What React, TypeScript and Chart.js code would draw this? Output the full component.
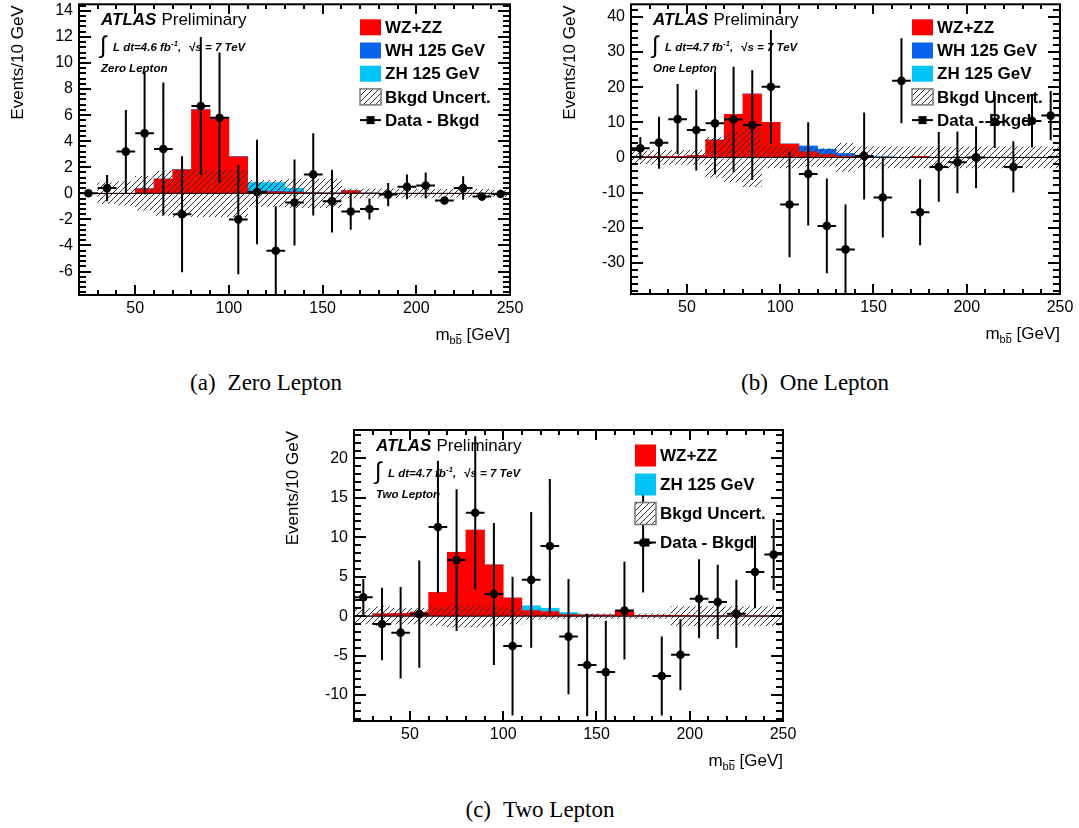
import React, { useEffect, useRef } from "react";
import { Chart, registerables } from "chart.js";

Chart.register(...registerables);

const FONT = '"Liberation Sans", Arial, Helvetica, sans-serif';

// ---------- shared binning ----------
const binCenters = [25, 35, 45, 55, 65, 75, 85, 95, 105, 115, 125, 135, 145, 155, 165, 175, 185, 195, 205, 215, 225, 235, 245];
const binHalfWidth = 5;
const xMin = 20;
const xMax = 250;
const xTickValues = [50, 100, 150, 200, 250];
const xMinorStep = 10;

// ---------- (a) Zero Lepton ----------
const zeroWZZZ = [0, 0, 0, 0.35, 1.1, 1.8, 6.4, 5.8, 2.8, 0.15, 0.12, 0.1, 0.03, 0.02, 0.2, 0.02, 0, 0, 0, 0, 0, 0, 0];
const zeroWH = [0, 0, 0, 0, 0, 0, 0, 0, 0, 0.04, 0.04, 0.02, 0, 0, 0, 0, 0, 0, 0, 0, 0, 0, 0];
const zeroZH = [0, 0, 0, 0, 0, 0, 0, 0, 0.02, 0.63, 0.66, 0.26, 0.05, 0, 0, 0, 0, 0, 0, 0, 0, 0, 0];
const zeroUnc = [0, 0.8, 0.9, 1.3, 1.7, 1.8, 1.8, 1.8, 1.8, 1.0, 1.0, 1.1, 1.1, 1.1, 0.35, 0.35, 0.35, 0.3, 0.3, 0.3, 0.3, 0.3, 0.25];
const zeroData = [0, 0.4, 3.2, 4.6, 3.4, -1.6, 6.7, 5.8, -2.0, 0.1, -4.4, -0.7, 1.45, -0.6, -1.4, -1.2, -0.1, 0.5, 0.6, -0.55, 0.4, -0.25, -0.05];
const zeroErr = [0, 1.0, 3.2, 4.7, 5.1, 4.45, 5.3, 5.0, 4.2, 4.0, 3.4, 3.3, 3.15, 2.4, 1.4, 0.8, 0.9, 0.95, 1.0, 0, 0.9, 0, 0];
const zeroYTicks = [-6, -4, -2, 0, 2, 4, 6, 8, 10, 12, 14];

// ---------- (b) One Lepton ----------
const oneWZZZ = [0.2, 0.2, 0.3, 0.5, 4.9, 12.3, 18.0, 10.0, 3.8, 1.6, 0.8, 0.3, 0.1, 0.05, 0.05, 0.3, 0.05, 0, 0, 0, 0, 0, 0];
const oneWH = [0, 0, 0, 0, 0, 0, 0, 0, 0, 1.6, 1.5, 0.8, 0.25, 0.1, 0, 0, 0, 0, 0, 0, 0, 0, 0];
const oneZH = [0, 0, 0, 0, 0, 0, 0, 0, 0, 0.05, 0.05, 0.03, 0, 0, 0, 0, 0, 0, 0, 0, 0, 0, 0];
const oneUnc = [1.8, 2.0, 2.0, 2.0, 5.7, 7.0, 8.3, 3.0, 3.0, 2.5, 2.5, 4.0, 3.0, 3.0, 3.0, 3.0, 3.0, 3.0, 3.0, 3.0, 3.0, 3.0, 3.0];
const oneData = [2.6, 4.2, 10.9, 7.8, 9.7, 10.8, 9.2, 20.1, -13.4, -4.7, -19.5, -26.2, 0.4, -11.4, 21.8, -15.6, -2.7, -1.4, 0, 10.1, -2.7, 10.4, 11.9];
const oneErr = [3.2, 7.4, 10, 11.5, 14.6, 15, 15.6, 16.2, 15, 14.7, 13.5, 12.8, 12.4, 11.4, 12.1, 9.4, 9.9, 8.8, 8.8, 7.4, 7.3, 7.6, 7];
const oneYTicks = [-30, -20, -10, 0, 10, 20, 30, 40];

// ---------- (c) Two Lepton ----------
const twoWZZZ = [0, 0.3, 0.35, 0.5, 3.0, 8.1, 10.9, 6.5, 2.3, 0.7, 0.55, 0.2, 0.15, 0.15, 0.6, 0.1, 0.1, 0.1, 0.05, 0.05, 0.05, 0.05, 0.05];
const twoZH = [0, 0, 0, 0, 0, 0, 0, 0, 0, 0.6, 0.45, 0.25, 0.05, 0, 0, 0, 0, 0, 0, 0, 0, 0, 0];
const twoUnc = [1.0, 1.2, 1.0, 1.0, 1.2, 1.4, 1.4, 1.2, 1.0, 0.4, 0.35, 0.3, 0.3, 0.3, 0.3, 0.3, 0.3, 1.2, 1.2, 1.2, 1.2, 1.2, 1.2];
const twoData = [2.4, -1.0, -2.1, 0.25, 11.3, 7.1, 13.1, 2.8, -3.8, 4.6, 8.9, -2.6, -6.2, -7.1, 0.7, 9.3, -7.6, -4.9, 2.2, 1.8, 0.3, 5.6, 7.8];
const twoErr = [2.3, 4.6, 5.8, 6.8, 8.4, 9.0, 9.7, 9.0, 8.8, 8.6, 8.5, 7.3, 6.5, 6.5, 6.2, 6.3, 5.0, 4.5, 5.0, 4.7, 4.3, 4.6, 4.5];
const twoYTicks = [-10, -5, 0, 5, 10, 15, 20];

// ---------- labels / colours ----------
const colorWZZZ = "#ff0000";
const colorWH = "#0a64f0";
const colorZH = "#00c4f5";
const legendFull = ["WZ+ZZ", "WH 125 GeV", "ZH 125 GeV", "Bkgd Uncert.", "Data - Bkgd"];
const legendTwo = ["WZ+ZZ", "ZH 125 GeV", "Bkgd Uncert.", "Data - Bkgd"];
const yTitle = "Events/10 GeV";

interface Comp { label: string; color: string; values: number[] }
interface LegendItem { label: string; kind: "box" | "hatch" | "marker"; color?: string }
interface PanelCfg {
  comps: Comp[];
  unc: number[];
  data: number[];
  err: number[];
  yMin: number;
  yMax: number;
  yTicks: number[];
  yMinor: number;
  lumi: string;
  channel: string;
  legend: LegendItem[];
  legendY0: number;
  legendDy: number;
  legendBoxH: number;
  box: { left: number; top: number; width: number; height: number };
  pad: { left: number; top: number; right: number; bottom: number };
  caption: [string, string];
  captionX: number;
  captionY: number;
}

const Y_AXIS_W = 50;
const X_AXIS_H = 30;

const panels: PanelCfg[] = [
  {
    comps: [
      { label: legendFull[0], color: colorWZZZ, values: zeroWZZZ },
      { label: legendFull[1], color: colorWH, values: zeroWH },
      { label: legendFull[2], color: colorZH, values: zeroZH },
    ],
    unc: zeroUnc, data: zeroData, err: zeroErr,
    yMin: -7.8, yMax: 14.5, yTicks: zeroYTicks, yMinor: 0.4,
    lumi: "4.6", channel: "Zero Lepton",
    legend: [
      { label: legendFull[0], kind: "box", color: colorWZZZ },
      { label: legendFull[1], kind: "box", color: colorWH },
      { label: legendFull[2], kind: "box", color: colorZH },
      { label: legendFull[3], kind: "hatch" },
      { label: legendFull[4], kind: "marker" },
    ],
    legendY0: 23, legendDy: 23.2, legendBoxH: 16,
    box: { left: 0, top: 0, width: 540, height: 360 },
    pad: { left: 79 - Y_AXIS_W, top: 4, right: 30, bottom: 360 - 295 - X_AXIS_H },
    caption: ["(a)", "Zero Lepton"], captionX: 266, captionY: 371,
  },
  {
    comps: [
      { label: legendFull[0], color: colorWZZZ, values: oneWZZZ },
      { label: legendFull[1], color: colorWH, values: oneWH },
      { label: legendFull[2], color: colorZH, values: oneZH },
    ],
    unc: oneUnc, data: oneData, err: oneErr,
    yMin: -38.9, yMax: 43.6, yTicks: oneYTicks, yMinor: 2,
    lumi: "4.7", channel: "One Lepton",
    legend: [
      { label: legendFull[0], kind: "box", color: colorWZZZ },
      { label: legendFull[1], kind: "box", color: colorWH },
      { label: legendFull[2], kind: "box", color: colorZH },
      { label: legendFull[3], kind: "hatch" },
      { label: legendFull[4], kind: "marker" },
    ],
    legendY0: 23, legendDy: 23.2, legendBoxH: 16,
    box: { left: 540, top: 0, width: 539, height: 360 },
    pad: { left: 91 - Y_AXIS_W, top: 4, right: 19, bottom: 360 - 294 - X_AXIS_H },
    caption: ["(b)", "One Lepton"], captionX: 815, captionY: 371,
  },
  {
    comps: [
      { label: legendTwo[0], color: colorWZZZ, values: twoWZZZ },
      { label: legendTwo[1], color: colorZH, values: twoZH },
    ],
    unc: twoUnc, data: twoData, err: twoErr,
    yMin: -13.3, yMax: 23.6, yTicks: twoYTicks, yMinor: 1,
    lumi: "4.7", channel: "Two Lepton",
    legend: [
      { label: legendTwo[0], kind: "box", color: colorWZZZ },
      { label: legendTwo[1], kind: "box", color: colorZH },
      { label: legendTwo[2], kind: "hatch" },
      { label: legendTwo[3], kind: "marker" },
    ],
    legendY0: 25.5, legendDy: 29, legendBoxH: 22,
    box: { left: 270, top: 420, width: 540, height: 360 },
    pad: { left: 84 - Y_AXIS_W, top: 10, right: 27, bottom: 360 - 301 - X_AXIS_H },
    caption: ["(c)", "Two Lepton"], captionX: 540, captionY: 798,
  },
];

function makeHatch(): CanvasPattern | string {
  const c = document.createElement("canvas");
  c.width = 6;
  c.height = 6;
  const g = c.getContext("2d");
  if (!g) return "rgba(0,0,0,0.3)";
  g.strokeStyle = "#333";
  g.lineWidth = 1;
  g.beginPath();
  g.moveTo(0, 6);
  g.lineTo(6, 0);
  g.moveTo(-1, 1);
  g.lineTo(1, -1);
  g.moveTo(5, 7);
  g.lineTo(7, 5);
  g.stroke();
  return g.createPattern(c, "repeat") || "rgba(0,0,0,0.3)";
}

function drawTicks(ctx: CanvasRenderingContext2D, a: any, xs: any, ys: any, cfg: PanelCfg) {
  ctx.fillStyle = "#000";
  const L = Math.round(a.left);
  const R = Math.round(a.right);
  const T = Math.round(a.top);
  const B = Math.round(a.bottom);
  const xVals: number[] = [];
  for (let k = 1; xMin + k * xMinorStep < xMax; k++) xVals.push(xMin + k * xMinorStep);
  xVals.forEach((v) => {
    const px = Math.round(xs.getPixelForValue(v));
    const major = xTickValues.indexOf(v) >= 0;
    const len = major ? 10 : 5;
    ctx.fillRect(px - 1, B - len, 2, len);
    ctx.fillRect(px - 1, T, 2, len);
  });
  const start = Math.ceil(cfg.yMin / cfg.yMinor - 1e-9);
  const end = Math.floor(cfg.yMax / cfg.yMinor + 1e-9);
  for (let k = start; k <= end; k++) {
    const v = Math.round(k * cfg.yMinor * 1000) / 1000;
    const py = Math.round(ys.getPixelForValue(v));
    let major = false;
    cfg.yTicks.forEach((t) => {
      if (Math.abs(t - v) < 1e-6) major = true;
    });
    const len = major ? 12 : 7;
    ctx.fillRect(L, py - 1, len, 2);
    ctx.fillRect(R - len, py - 1, len, 2);
  }
}

function drawDecorations(chart: any, cfg: PanelCfg, hatch: CanvasPattern | string) {
  const ctx: CanvasRenderingContext2D = chart.ctx;
  const a = chart.chartArea;
  const xs = chart.scales.x;
  const ys = chart.scales.y;
  ctx.save();

  // frame
  ctx.strokeStyle = "#000";
  ctx.lineWidth = 2;
  ctx.strokeRect(a.left, a.top, a.right - a.left, a.bottom - a.top);

  // tick marks on all four sides (inside the frame)
  drawTicks(ctx, a, xs, ys, cfg);

  // ATLAS label
  ctx.fillStyle = "#000";
  ctx.textBaseline = "alphabetic";
  ctx.textAlign = "left";
  const ax = a.left + 22;
  ctx.font = `italic bold 17px ${FONT}`;
  ctx.fillText("ATLAS", ax, a.top + 21);
  const wA = ctx.measureText("ATLAS").width;
  ctx.font = `17px ${FONT}`;
  ctx.fillText("Preliminary", ax + wA + 5, a.top + 21);

  // luminosity line
  ctx.font = `24px ${FONT}`;
  ctx.fillText("\u222B", ax - 1, a.top + 49);
  let tx = ax + 12;
  const base = a.top + 47;
  ctx.font = `italic bold 11.5px ${FONT}`;
  const s1 = `L dt=${cfg.lumi} fb`;
  ctx.fillText(s1, tx, base);
  tx += ctx.measureText(s1).width + 0.5;
  ctx.font = `italic bold 7.5px ${FONT}`;
  ctx.fillText("-1", tx, base - 5);
  tx += ctx.measureText("-1").width;
  ctx.font = `italic bold 11.5px ${FONT}`;
  ctx.fillText(",", tx, base);
  tx += ctx.measureText(",").width + 8;
  ctx.font = `bold 11.5px ${FONT}`;
  ctx.fillText("\u221A", tx, base);
  tx += ctx.measureText("\u221A").width;
  ctx.font = `italic bold 11.5px ${FONT}`;
  ctx.fillText("s = 7 TeV", tx, base);

  // channel
  ctx.font = `italic bold 11.5px ${FONT}`;
  ctx.fillText(cfg.channel, ax, a.top + 68);

  // legend
  const lx = a.left + 281;
  cfg.legend.forEach((e, i) => {
    const cy = a.top + cfg.legendY0 + i * cfg.legendDy;
    const h = cfg.legendBoxH;
    if (e.kind === "box") {
      ctx.fillStyle = e.color || "#000";
      ctx.fillRect(lx, cy - h / 2, 21, h);
    } else if (e.kind === "hatch") {
      ctx.fillStyle = "#fff";
      ctx.fillRect(lx, cy - h / 2, 21, h);
      ctx.fillStyle = hatch as any;
      ctx.fillRect(lx, cy - h / 2, 21, h);
      ctx.strokeStyle = "#777";
      ctx.lineWidth = 1.5;
      ctx.strokeRect(lx, cy - h / 2, 21, h);
    } else {
      ctx.fillStyle = "#000";
      ctx.fillRect(lx, cy - 1, 21, 2);
      ctx.fillRect(lx + 10.5 - 4, cy - 4, 8, 8);
    }
    ctx.fillStyle = "#000";
    ctx.font = `bold 17px ${FONT}`;
    ctx.textBaseline = "middle";
    ctx.fillText(e.label, lx + 25, cy + 1);
    ctx.textBaseline = "alphabetic";
  });

  // y title
  ctx.save();
  ctx.translate(a.left - 61, a.top + 1);
  ctx.rotate(-Math.PI / 2);
  ctx.font = `17px ${FONT}`;
  ctx.textAlign = "right";
  ctx.textBaseline = "middle";
  ctx.fillStyle = "#000";
  ctx.fillText(yTitle, 0, 0);
  ctx.restore();

  // x title: m_{b b-bar} [GeV]
  const bl = a.bottom + 45;
  ctx.font = `17px ${FONT}`;
  const wm = ctx.measureText("m").width;
  const wRest = ctx.measureText(" [GeV]").width;
  ctx.font = `11px ${FONT}`;
  const wb = ctx.measureText("b").width;
  const total = wm + 2 * wb + wRest;
  let xx = a.right - total;
  ctx.textAlign = "left";
  ctx.textBaseline = "alphabetic";
  ctx.fillStyle = "#000";
  ctx.font = `17px ${FONT}`;
  ctx.fillText("m", xx, bl);
  xx += wm;
  ctx.font = `11px ${FONT}`;
  ctx.fillText("b", xx, bl + 4);
  ctx.fillText("b", xx + wb, bl + 4);
  ctx.fillRect(xx + wb + 0.5, bl - 6, wb - 1, 1);
  xx += 2 * wb;
  ctx.font = `17px ${FONT}`;
  ctx.fillText(" [GeV]", xx, bl);

  ctx.restore();
}

function Panel({ cfg }: { cfg: PanelCfg }) {
  const ref = useRef<HTMLCanvasElement>(null);
  useEffect(() => {
    const canvas = ref.current;
    if (!canvas) return;
    const hatch = makeHatch();

    const datasets: any[] = [];
    // stacked signal components as floating bars
    let cum = binCenters.map(() => 0);
    cfg.comps.forEach((comp, k) => {
      const data = binCenters.map((x, i) => ({ x, y: [cum[i], cum[i] + comp.values[i]] }));
      cum = cum.map((c, i) => c + comp.values[i]);
      datasets.push({
        type: "bar",
        label: comp.label,
        data,
        backgroundColor: comp.color,
        borderWidth: 0,
        grouped: false,
        barPercentage: 1,
        categoryPercentage: 1,
        order: 10 + k,
      });
    });
    // background uncertainty band
    datasets.push({
      type: "bar",
      label: "Bkgd Uncert.",
      data: binCenters.map((x, i) => ({ x, y: [-cfg.unc[i], cfg.unc[i]] })),
      backgroundColor: hatch,
      borderWidth: 0,
      grouped: false,
      barPercentage: 1,
      categoryPercentage: 1,
      order: 5,
    });
    // zero line
    datasets.push({
      type: "line",
      label: "zero",
      data: [{ x: xMin, y: 0 }, { x: xMax, y: 0 }],
      borderColor: "#000",
      borderWidth: 1,
      pointRadius: 0,
      order: 3,
    });
    // error bars
    const segs: any[] = [];
    binCenters.forEach((x, i) => {
      const v = cfg.data[i];
      const e = cfg.err[i];
      segs.push({ x: x - binHalfWidth, y: v }, { x: x + binHalfWidth, y: v }, { x: x + binHalfWidth, y: null });
      if (e > 0) segs.push({ x, y: v - e }, { x, y: v + e }, { x, y: null });
    });
    datasets.push({
      type: "line",
      label: "errors",
      data: segs,
      borderColor: "#000",
      borderWidth: 2,
      pointRadius: 0,
      spanGaps: false,
      order: 1,
    });
    // data markers
    datasets.push({
      type: "scatter",
      label: "Data - Bkgd",
      data: binCenters.map((x, i) => ({ x, y: cfg.data[i] })),
      backgroundColor: "#000",
      borderWidth: 0,
      pointRadius: 4.3,
      order: 0,
    });

    const tickFont = { family: FONT, size: 16 };
    const chart = new Chart(canvas, {
      type: "bar",
      data: { datasets },
      options: {
        responsive: false,
        animation: false,
        devicePixelRatio: 1,
        events: [],
        layout: { padding: cfg.pad },
        plugins: { legend: { display: false }, tooltip: { enabled: false }, title: { display: false } },
        scales: {
          x: {
            type: "linear",
            min: xMin,
            max: xMax,
            offset: false,
            grid: { display: false, drawTicks: false },
            border: { display: false },
            ticks: { font: tickFont, color: "#000", padding: 4, maxRotation: 0, autoSkip: false },
            afterBuildTicks: (s: any) => {
              s.ticks = xTickValues.map((v) => ({ value: v }));
            },
            afterFit: (s: any) => {
              s.height = X_AXIS_H;
              s.paddingLeft = 0;
              s.paddingRight = 0;
            },
          },
          y: {
            type: "linear",
            min: cfg.yMin,
            max: cfg.yMax,
            grid: { display: false, drawTicks: false },
            border: { display: false },
            ticks: { font: tickFont, color: "#000", padding: 6, autoSkip: false },
            afterBuildTicks: (s: any) => {
              s.ticks = cfg.yTicks.map((v) => ({ value: v }));
            },
            afterFit: (s: any) => {
              s.width = Y_AXIS_W;
              s.paddingTop = 0;
              s.paddingBottom = 0;
            },
          },
        },
      } as any,
      plugins: [
        {
          id: "atlasDecor",
          afterDraw: (c: any) => drawDecorations(c, cfg, hatch),
        },
      ],
    });
    return () => chart.destroy();
  }, [cfg]);

  return (
    <canvas
      ref={ref}
      width={cfg.box.width}
      height={cfg.box.height}
      style={{ position: "absolute", left: cfg.box.left, top: cfg.box.top, width: cfg.box.width, height: cfg.box.height }}
    />
  );
}

function Caption({ cfg }: { cfg: PanelCfg }) {
  return (
    <div
      style={{
        position: "absolute",
        left: cfg.captionX - 150,
        top: cfg.captionY,
        width: 300,
        textAlign: "center",
        fontFamily: '"Liberation Serif", "Times New Roman", serif',
        fontSize: 23,
        lineHeight: "23px",
        color: "#000",
        whiteSpace: "nowrap",
      }}
    >
      <span>{cfg.caption[0]}</span>
      <span style={{ display: "inline-block", width: 12 }} />
      <span>{cfg.caption[1]}</span>
    </div>
  );
}

export default function App() {
  return (
    <div style={{ position: "absolute", left: 0, top: 0, width: 1079, height: 828, background: "#fff", overflow: "hidden" }}>
      {panels.map((p, i) => (
        <Panel key={i} cfg={p} />
      ))}
      {panels.map((p, i) => (
        <Caption key={"c" + i} cfg={p} />
      ))}
    </div>
  );
}
